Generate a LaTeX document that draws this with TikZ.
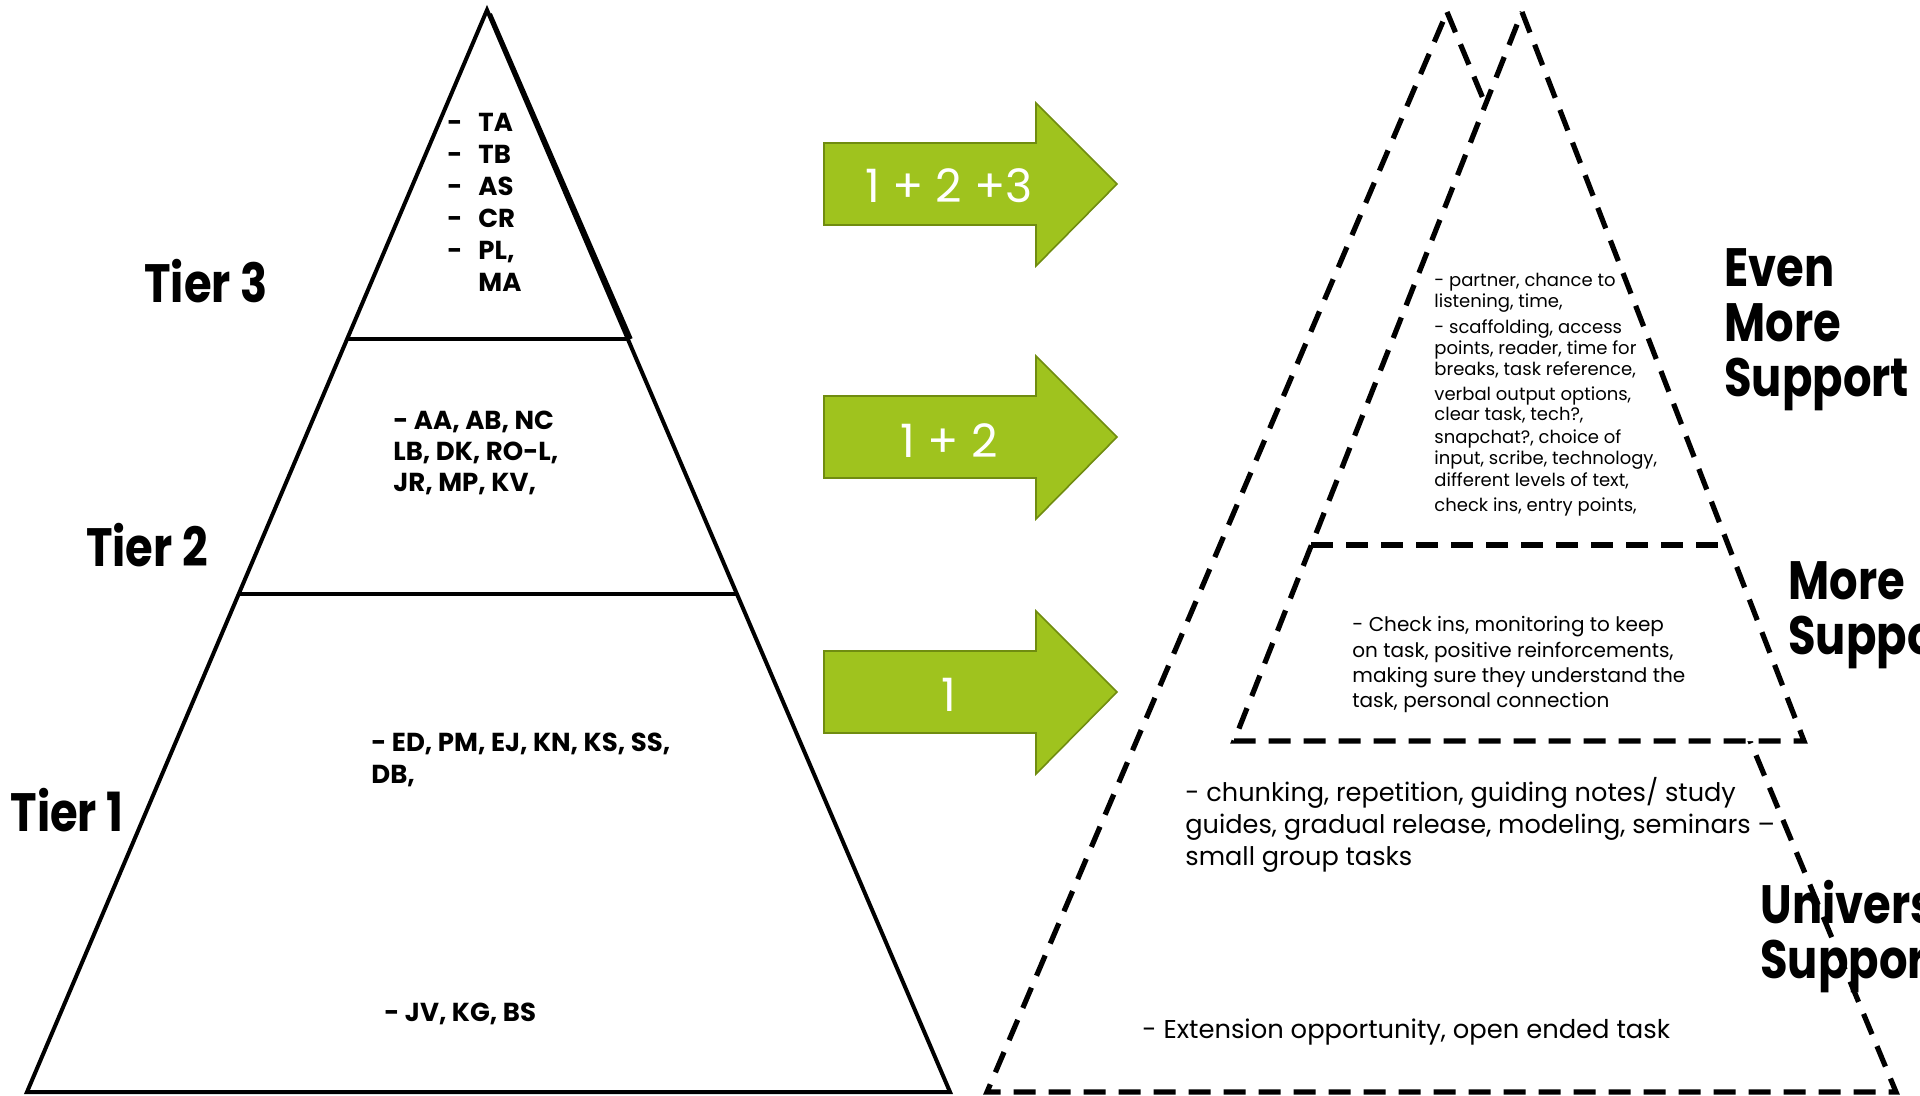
\documentclass[tikz,border=0pt]{standalone}
\usepackage{fontspec}
\setmainfont{Poppins}
\newfontfamily\labelfont[FakeStretch=0.83]{Poppins}
\usetikzlibrary{calc}
\definecolor{arrowgreen}{RGB}{159,195,30}
\definecolor{arrowedge}{RGB}{112,140,16}

\begin{document}
\begin{tikzpicture}[x=0.5pt,y=-0.5pt,
  solidpyr/.style={line width=2pt, line join=miter},
  dashpyr/.style={line width=2.6pt, dash pattern=on 11pt off 6.5pt},
  tierlabel/.style={font=\fontsize{27}{28}\selectfont\labelfont\bfseries, inner sep=0pt, anchor=base},
  biglabel/.style={font=\fontsize{27}{27.5}\selectfont\labelfont\bfseries, inner sep=0pt, align=left, anchor=north west},
  namelist/.style={font=\fontsize{13}{15.5}\selectfont\bfseries, inner sep=0pt, align=left, anchor=north west},
  bigarrow/.style={fill=arrowgreen, draw=arrowedge, line width=0.8pt, line join=miter},
  arrowtext/.style={text=white, font=\fontsize{23}{25}\selectfont, inner sep=0pt},
  supporttext/.style={inner sep=0pt, align=left, anchor=north west}
]
\useasboundingbox (0,0) rectangle (1920,1096);
\clip (0,0) rectangle (1920,1096);

% ---------- solid tier pyramid ----------
\coordinate (LA) at (487,10);
\coordinate (LBL) at (27,1092);
\coordinate (LBR) at (950,1092);
\draw[solidpyr] (LA) -- (LBR) -- (LBL) -- cycle;
\coordinate (T3L) at ($(LA)!0.304!(LBL)$);
\coordinate (T3R) at ($(LA)!0.304!(LBR)$);
\coordinate (T2L) at ($(LA)!0.5397!(LBL)$);
\coordinate (T2R) at ($(LA)!0.5397!(LBR)$);
\draw[solidpyr] (T3L) -- (T3R);
\draw[solidpyr] (T2L) -- (T2R);
% heavier upper right edge of the top tier
\draw[line width=2pt] ($(LA)+(3,4)$) -- ($(T3R)+(3,0)$);

\node[tierlabel] (tier3) at (206,303) {Tier 3};
\node[tierlabel] (tier2) at (147,566) {Tier 2};
\node[tierlabel] (tier1) at (67,831) {Tier 1};

\node[namelist, font=\fontsize{13}{16}\selectfont\bfseries] (names3) at (447,113)
  {\makebox[15.5pt][l]{-}TA\\ \makebox[15.5pt][l]{-}TB\\ \makebox[15.5pt][l]{-}AS\\
   \makebox[15.5pt][l]{-}CR\\ \makebox[15.5pt][l]{-}PL,\\ \hspace*{15.5pt}MA};
\node[namelist] (names2) at (393,411) {- AA, AB, NC\\ LB, DK, RO-L,\\ JR, MP, KV,};
\node[namelist, font=\fontsize{13}{16}\selectfont\bfseries] (names1a) at (371,733) {- ED, PM, EJ, KN, KS, SS,\\ DB,};
\node[namelist] (names1b) at (384,1003) {- JV, KG, BS};

% ---------- green arrows ----------
\fill[bigarrow] (824,143) -- (1036,143) -- (1036,103) -- (1117,184) -- (1036,266) -- (1036,225) -- (824,225) -- cycle;
\fill[bigarrow] (824,396) -- (1036,396) -- (1036,356) -- (1117,437) -- (1036,519) -- (1036,478) -- (824,478) -- cycle;
\fill[bigarrow] (824,651) -- (1036,651) -- (1036,611) -- (1117,692) -- (1036,774) -- (1036,733) -- (824,733) -- cycle;
\node[arrowtext] (arr3) at (949,186) {1 + 2 +3};
\node[arrowtext] (arr2) at (949,441) {1 + 2};
\node[arrowtext] (arr1) at (949,695) {1};

% ---------- dashed support pyramids ----------
\coordinate (RA) at (1447,12);
\coordinate (RBL) at (987,1092);
\coordinate (RBR) at (1896,1092);
\draw[dashpyr] (RA) -- (RBR) -- (RBL) -- cycle;

\coordinate (SA) at (1522,12);
\coordinate (SBL) at (1234,741);
\coordinate (SBR) at (1804,741);
\filldraw[dashpyr, fill=white] (SA) -- (SBR) -- (SBL) -- cycle;
\coordinate (SML) at ($(SA)!0.731!(SBL)$);
\coordinate (SMR) at ($(SA)!0.731!(SBR)$);
\draw[dashpyr] (SML) -- (SMR);

\node[supporttext, font=\fontsize{9}{10.4}\selectfont] (evenmoretext) at (1434,273)
  {- partner, chance to\\
   listening, time,\\[2.6pt]
   - scaffolding, access\\
   points, reader, time for\\
   breaks, task reference,\\[2.1pt]
   verbal output options,\\
   clear task, tech?,\\[1.1pt]
   snapchat?, choice of\\
   input, scribe, technology,\\[0.6pt]
   different levels of text,\\[2.1pt]
   check ins, entry points,};

\node[supporttext, font=\fontsize{10}{12.7}\selectfont] (moretext) at (1352,616)
  {- Check ins, monitoring to keep\\
   on task, positive reinforcements,\\
   making sure they understand the\\
   task, personal connection};

\node[supporttext, font=\fontsize{12.8}{16}\selectfont] (univtext) at (1185,777)
  {- chunking, repetition, guiding notes/ study\\
   guides, gradual release, modeling, seminars –\\
   small group tasks};

\node[inner sep=0pt, anchor=base west, font=\fontsize{12.9}{16}\selectfont] (extension) at (1142,1038)
  {- Extension opportunity, open ended task};

\node[biglabel] (evenmore) at (1724,248) {Even\\ More\\ Support};
\node[biglabel] (more) at (1788,561) {More\\ Support};
\node[biglabel] (universal) at (1760,880) {Universal\\ Support};

\end{tikzpicture}
\end{document}
